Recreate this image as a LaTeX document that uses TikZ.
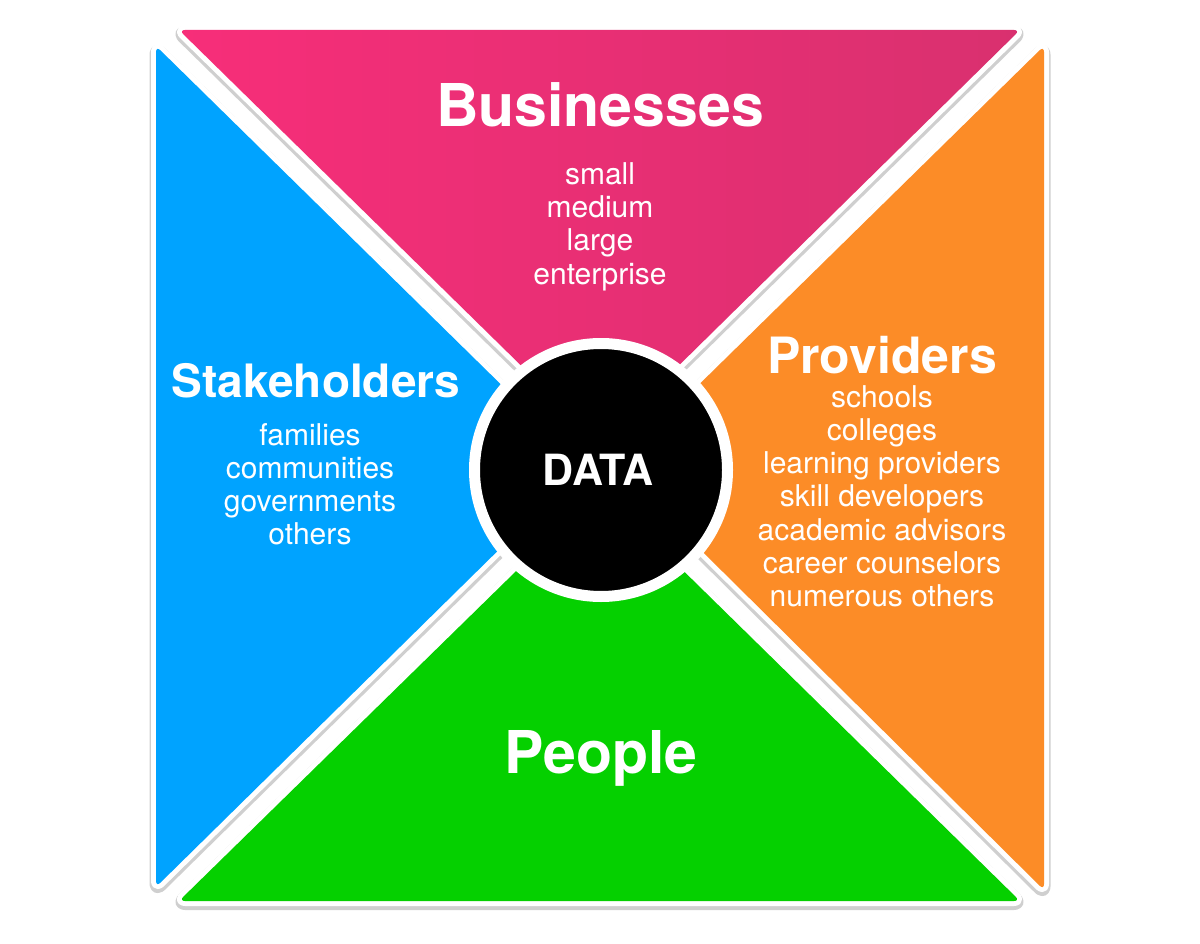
\documentclass[tikz,border=0pt]{standalone}
\usepackage{fontspec}
\setmainfont{TeX Gyre Heros}
\usetikzlibrary{shapes.geometric}
\definecolor{QPink}{HTML}{F72E79}
\definecolor{QPinkDark}{HTML}{D9306F}
\definecolor{QBlue}{HTML}{00A3FF}
\definecolor{QOrange}{HTML}{FC8C27}
\definecolor{QGreen}{HTML}{05D000}
\definecolor{QShadow}{HTML}{CFCFCF}

\begin{document}
\begin{tikzpicture}[
  x=1pt, y=-1pt,
  wedge/.style={rounded corners=6pt, line join=round},
  dropshadow/.style={wedge, draw=QShadow, line width=13pt},
  rim/.style={wedge, draw=white, line width=10pt},
  lbl/.style={text=white, anchor=base, inner sep=0pt},
  head/.style={lbl, font=\fontsize{59}{59}\selectfont\bfseries},
  side/.style={lbl, font=\fontsize{46}{46}\selectfont\bfseries},
  sub/.style={lbl, font=\fontsize{30}{30}\selectfont},
  hub/.style={circle, fill=black, draw=white, line width=11pt, minimum size=253pt,
              inner sep=0pt, text=white, font=\fontsize{43}{43}\selectfont\bfseries},
]
\useasboundingbox (0,0) rectangle (1200,944);

% --- corners of the four wedges ---
\coordinate (busL) at (179,30);
\coordinate (busR) at (1020,30);
\coordinate (busT) at (600,443);
\coordinate (stkT) at (156,46);
\coordinate (stkB) at (156,887);
\coordinate (stkT2) at (584,466);
\coordinate (proT) at (1044,46);
\coordinate (proB) at (1044,890);
\coordinate (proT2) at (616,466);
\coordinate (pplL) at (179,901);
\coordinate (pplR) at (1020,901);
\coordinate (pplT) at (600,489);

% --- soft shadows, a little lower ---
\begin{scope}[transform canvas={yshift=-2.5pt}]
  \draw[dropshadow] (busL) -- (busR) -- (busT) -- cycle;
  \draw[dropshadow] (stkT) -- (stkT2) -- (stkB) -- cycle;
  \draw[dropshadow] (proT) -- (proB) -- (proT2) -- cycle;
  \draw[dropshadow] (pplL) -- (pplT) -- (pplR) -- cycle;
\end{scope}

% --- white rims ---
\draw[rim] (busL) -- (busR) -- (busT) -- cycle;
\draw[rim] (stkT) -- (stkT2) -- (stkB) -- cycle;
\draw[rim] (proT) -- (proB) -- (proT2) -- cycle;
\draw[rim] (pplL) -- (pplT) -- (pplR) -- cycle;

% --- coloured wedges ---
\shade[wedge, left color=QPink, right color=QPinkDark] (busL) -- (busR) -- (busT) -- cycle;
\fill[wedge, QBlue] (stkT) -- (stkT2) -- (stkB) -- cycle;
\fill[wedge, QOrange] (proT) -- (proB) -- (proT2) -- cycle;
\fill[wedge, QGreen] (pplL) -- (pplT) -- (pplR) -- cycle;

% --- centre ---
\node[hub] (data) at (601,470) {\hspace*{-6pt}DATA};

% --- labels ---
\node[head] (bus) at (600,127) {Businesses};
\foreach \word [count=\i] in {small, medium, large, enterprise}
  \node[sub] (bus\i) at (600,152+33*\i) {\word};

\node[side] (stk) at (316,397) {Stakeholders};
\foreach \word [count=\i] in {families, communities, governments, others}
  \node[sub] (stk\i) at (310,412+33*\i) {\word};

\node[side, font=\fontsize{50}{50}\selectfont\bfseries] (pro) at (882,373) {Providers};
\foreach \word [count=\i] in {schools, colleges, learning providers, skill developers,
                              academic advisors, career counselors, numerous others}
  \node[sub] (pro\i) at (882,374+33.2*\i) {\word};

\node[head] (ppl) at (601,773) {People};

\end{tikzpicture}
\end{document}
